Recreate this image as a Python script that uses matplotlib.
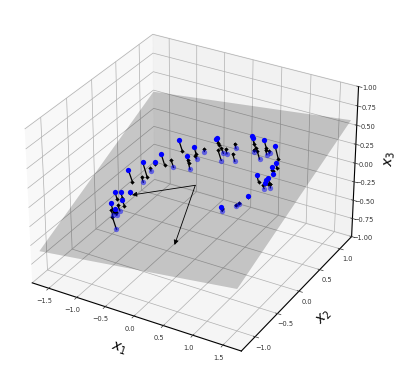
import numpy as np
import matplotlib
matplotlib.use("Agg")
import matplotlib.pyplot as plt
from matplotlib.patches import FancyArrowPatch
from mpl_toolkits.mplot3d import proj3d

# plane corners: front-left, front-right / back-left, back-right
plane_x1 = [[-1.72, 1.72], [-1.8, 1.72]]
plane_x2 = [[-1.22, -1.3], [1.3, 1.27]]
plane_z = [[-0.600, -0.218], [0.228, 0.565]]

# points above the plane and where they land on it
above = [[-1.06,-0.42,-0.1],[-1,-0.37,-0.12],[-0.92,-0.27,-0.15],[-0.87,-0.49,-0.13],[-0.97,-0.61,-0.13],[-0.91,-0.6,-0.2],
         [-1.04,-0.16,0.06],[-0.86,-0.07,0.16],[-0.87,0.2,0.01],[-0.72,0.16,0.17],[-0.61,0.41,0.25],[-0.34,0.41,0.22],
         [-0.35,0.26,0.17],[-0.12,0.63,0.26],[-0.07,0.58,0.31],[0.47,0.67,0.4],[0.52,0.61,0.41],[0.69,0.65,0.4],
         [0.98,0.51,0.45],[1.07,0.4,0.31],[1.05,0.35,0.28],[1.04,0.4,0.16],[0.94,0.15,0.26],[1.14,0.14,0.26],
         [1.1,0.15,0.22],[1.08,0.15,0.18],[0.94,-0.05,0.09],[0.67,-0.28,0.01]]
above_on = [[-1.05,-0.39,-0.21],[-0.99,-0.35,-0.20],[-0.92,-0.27,-0.16],[-0.86,-0.46,-0.22],[-0.96,-0.57,-0.26],[-0.90,-0.58,-0.26],
            [-1.02,-0.10,-0.13],[-0.84,0.00,-0.08],[-0.87,0.21,-0.02],[-0.70,0.21,0.00],[-0.59,0.46,0.09],[-0.33,0.44,0.11],
            [-0.34,0.29,0.06],[-0.11,0.65,0.19],[-0.06,0.62,0.19],[0.48,0.71,0.27],[0.54,0.66,0.26],[0.70,0.69,0.28],
            [1.00,0.56,0.27],[1.08,0.42,0.24],[1.06,0.37,0.22],[1.03,0.38,0.22],[0.95,0.18,0.15],[1.15,0.17,0.17],
            [1.11,0.17,0.16],[1.08,0.16,0.16],[0.94,-0.05,0.08],[0.67,-0.27,-0.01]]

# points below the plane and where they land on it
below = [[-0.96,-0.44,-0.32],[-1.01,-0.53,-0.34],[-0.91,-0.56,-0.3],[-0.89,-0.6,-0.46],[-0.92,0.01,-0.17],[-0.66,0.35,-0.09],
         [-0.32,0.44,0.05],[-0.38,0.37,-0.07],[-0.89,0.14,-0.08],[-0.27,0.55,0.1],[-0.01,0.6,0.01],[0.01,0.62,0.1],
         [0.09,0.6,0.12],[0.17,0.7,0.16],[0.25,0.57,0.07],[0.53,0.64,0.22],[0.61,0.66,0.13],[0.72,0.68,0.2],
         [0.79,0.65,0.25],[1.06,0.16,0.1],[1.15,0.18,0.12],[0.85,-0.19,0.01],[0.88,-0.16,0.03],[0.68,-0.27,-0.05]]
below_on = [[-0.97,-0.47,-0.23],[-1.02,-0.55,-0.26],[-0.91,-0.57,-0.26],[-0.91,-0.65,-0.28],[-0.93,-0.01,-0.09],[-0.67,0.31,0.03],
            [-0.33,0.42,0.10],[-0.39,0.33,0.07],[-0.89,0.13,-0.04],[-0.27,0.54,0.14],[-0.03,0.55,0.17],[0.00,0.59,0.18],
            [0.08,0.58,0.19],[0.16,0.68,0.23],[0.24,0.53,0.19],[0.53,0.63,0.25],[0.60,0.62,0.25],[0.71,0.66,0.27],
            [0.79,0.64,0.28],[1.05,0.14,0.15],[1.15,0.17,0.17],[0.85,-0.20,0.03],[0.88,-0.16,0.04],[0.68,-0.28,-0.01]]

origin = [0.014, -0.009, 0.004]
ends = [[-0.867, -0.292, -0.168], [0.355, -0.879, -0.224]]

xticks = [-1.5, -1.0, -0.5, 0.0, 0.5, 1.0, 1.5]
yticks = [-1.0, -0.5, 0.0, 0.5, 1.0]
zticks = [-1.0, -0.75, -0.5, -0.25, 0.0, 0.25, 0.5, 0.75, 1.0]


class Arrow3D(FancyArrowPatch):
    def __init__(self, p0, p1, **kw):
        super().__init__((0, 0), (0, 0), **kw)
        self.p0 = p0
        self.p1 = p1

    def do_3d_projection(self, renderer=None):
        xs, ys, zs = proj3d.proj_transform(*zip(self.p0, self.p1), self.axes.get_proj())
        self.set_positions((xs[0], ys[0]), (xs[1], ys[1]))
        return np.min(zs)


fig = plt.figure(figsize=(4, 3.8), dpi=100)
ax = fig.add_axes([0.01245, 0.01337, 0.92463, 0.97329], projection='3d')
ax.computed_zorder = False
ax.view_init(30.2, -60.15)
ax.set_box_aspect((1, 1, 0.735))

ax.plot_surface(np.array(plane_x1), np.array(plane_x2), np.array(plane_z), color='k', alpha=0.2,
                shade=False, linewidth=0, zorder=1)

above = np.array(above)
below = np.array(below)
on = np.array(above_on + below_on)

for a, b in zip(np.vstack((above, below)), on):
    ax.plot([a[0], b[0]], [a[1], b[1]], [a[2], b[2]], 'k-', lw=0.9, zorder=3)
ax.plot(on[:, 0], on[:, 1], on[:, 2], 'k+', ms=3, mew=0.6, zorder=4)
ax.plot(on[:, 0], on[:, 1], on[:, 2], 'k.', ms=2.5, zorder=4)
ax.plot(below[:, 0], below[:, 1], below[:, 2], 'o', color='b', alpha=0.5, ms=3.8, mew=0, zorder=5)
ax.plot(above[:, 0], above[:, 1], above[:, 2], 'o', color='b', ms=3.8, mew=0, zorder=6)

for e in ends:
    ax.add_artist(Arrow3D(origin, e, arrowstyle='-|>', mutation_scale=7, lw=0.6, color='k',
                          shrinkA=0, shrinkB=0, zorder=7))

ax.set_xlim(-1.8, 1.8)
ax.set_ylim(-1.3, 1.3)
ax.set_zlim(-1, 1)
ax.set_xticks(xticks)
ax.set_yticks(yticks)
ax.set_zticks(zticks)
ax.tick_params(labelsize=4.8, pad=-3, colors='#333333')
for a in (ax.xaxis, ax.yaxis, ax.zaxis):
    a._axinfo['grid']['linewidth'] = 0.5
    a._axinfo['axisline']['linewidth'] = 0.5
    a._axinfo['tick']['linewidth'] = {True: 0.5, False: 0.3}
ax.set_xlabel('$x_1$', fontsize=10, labelpad=-4)
ax.set_ylabel('$x_2$', fontsize=10, labelpad=-4)
ax.set_zlabel('$x_3$', fontsize=10, labelpad=-5.5)

fig.savefig('out.png')
